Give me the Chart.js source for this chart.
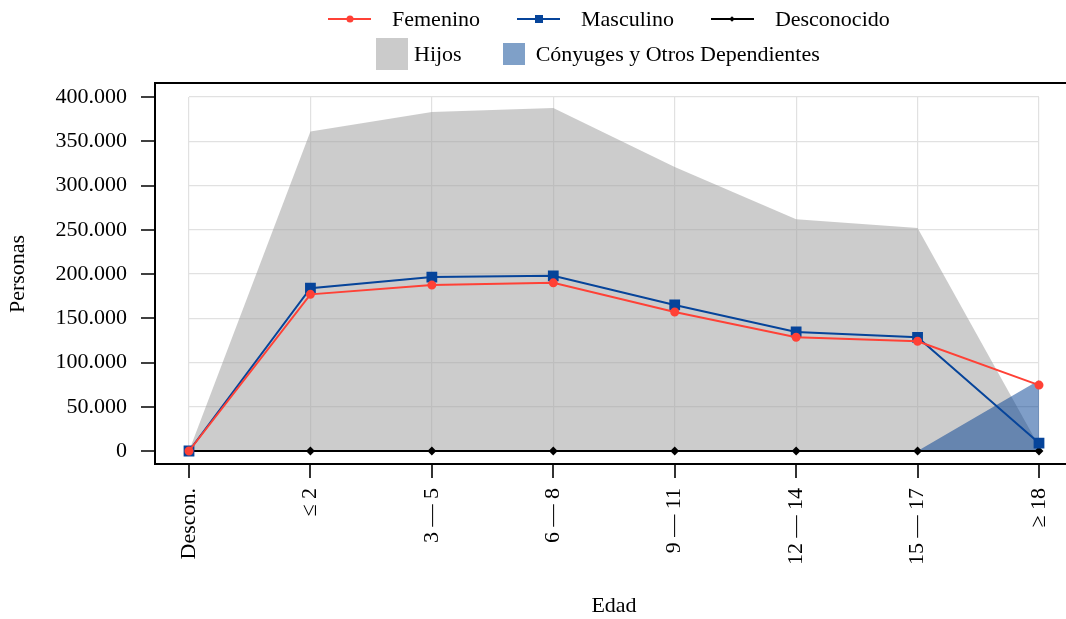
<!DOCTYPE html>
<html lang="es">
<head>
<meta charset="utf-8">
<title>Personas por edad</title>
<script src="https://cdn.jsdelivr.net/npm/chart.js@4.4.1/dist/chart.umd.min.js"></script>
<style>
  body { margin: 0; background: #fff; }
  #wrap { position: relative; width: 1066px; height: 619px; font-family: "Liberation Serif", serif; }
  #canvas { position: absolute; left: 0; top: 0; }
  .legend-row { position: absolute; display: flex; align-items: center; font-size: 22px; color: #000; white-space: nowrap; }
  .legend-row .item { display: flex; align-items: center; margin-right: 37px; }
  .legend-row .line { position: relative; width: 43px; height: 2px; margin-right: 21px; }
  .legend-row .mark { position: absolute; left: 50%; top: 50%; transform: translate(-50%, -50%); }
  .legend-row .box { margin-right: 8px; }
</style>
</head>
<body>
<div id="wrap">
  <canvas id="canvas" width="1066" height="619"></canvas>
  <div class="legend-row" style="left:328px; top:5px; height:28px;">
    <div class="item"><span class="line" style="background:#ff4136"><span class="mark" style="width:7px;height:7px;border-radius:50%;background:#ff4136"></span></span>Femenino</div>
    <div class="item"><span class="line" style="background:#06449a"><span class="mark" style="width:8px;height:8px;background:#06449a"></span></span>Masculino</div>
    <div class="item"><span class="line" style="background:#000"><span class="mark" style="width:4px;height:4px;background:#000;transform:translate(-50%,-50%) rotate(45deg)"></span></span>Desconocido</div>
  </div>
  <div class="legend-row" style="left:376px; top:38px; height:32px;">
    <div class="item" style="margin-right:41px"><span class="box" style="width:32px;height:32px;background:#cbcbcb;margin-right:6px"></span>Hijos</div>
    <div class="item"><span class="box" style="width:22px;height:22px;background:#7fa0c8;margin-right:11px"></span>Cónyuges y Otros Dependientes</div>
  </div>
</div>
<script>
const canvas = document.getElementById("canvas");

const categories = ['Descon.', '≤ 2', '3 — 5', '6 — 8', '9 — 11', '12 — 14', '15 — 17', '≥ 18'];
const femenino = [0, 177000, 187500, 190000, 157000, 128500, 124000, 74500];
const masculino = [0, 184000, 196500, 198000, 165000, 134500, 128500, 9000];
const desconocido = [0, 0, 0, 0, 0, 0, 0, 0];
const hijos = [0, 361000, 383000, 387500, 321000, 262000, 252000, 5500];
const conyuges = [0, 0, 0, 0, 0, 0, 0, 80000];
const yTicks = [0, 50000, 100000, 150000, 200000, 250000, 300000, 350000, 400000];

const font = { family: "'Liberation Serif', serif", size: 22 };

function formatMiles(v) {
  return String(v).replace(/\B(?=(\d{3})+(?!\d))/g, '.');
}

// matplotlib-like frame: spines + outward ticks, offset from the data area
const framePlugin = {
  id: 'frame',
  afterDraw(chart) {
    const { ctx, chartArea } = chart;
    const xs = chart.scales.x, ys = chart.scales.y;
    const left = chartArea.left - 34, top = chartArea.top - 14, bottom = chartArea.bottom + 13;
    const right = chart.width;
    ctx.save();
    ctx.strokeStyle = '#000';
    ctx.lineWidth = 2;
    ctx.beginPath();
    ctx.moveTo(right, top); ctx.lineTo(left, top); ctx.lineTo(left, bottom); ctx.lineTo(right, bottom);
    ctx.stroke();
    ctx.lineWidth = 1.6;
    ctx.beginPath();
    yTicks.forEach(v => {
      const y = Math.round(ys.getPixelForValue(v));
      ctx.moveTo(left - 14, y); ctx.lineTo(left, y);
    });
    categories.forEach((c, i) => {
      const x = Math.round(xs.getPixelForValue(i));
      ctx.moveTo(x, bottom); ctx.lineTo(x, bottom + 14);
    });
    ctx.stroke();
    ctx.restore();
  }
};

const chart = new Chart(canvas, {
  type: 'line',
  data: {
    labels: categories,
    datasets: [{
      label: 'Femenino',
      data: femenino,
      borderColor: '#ff4136',
      backgroundColor: '#ff4136',
      borderWidth: 2,
      pointStyle: 'circle',
      pointRadius: 3.5,
      fill: false,
      clip: false,
    }, {
      label: 'Masculino',
      data: masculino,
      borderColor: '#06449a',
      backgroundColor: '#06449a',
      borderWidth: 2,
      pointStyle: 'rect',
      pointRadius: 6.2,
      fill: false,
      clip: false,
    }, {
      label: 'Desconocido',
      data: desconocido,
      borderColor: '#000',
      backgroundColor: '#000',
      borderWidth: 2,
      pointStyle: 'rectRot',
      pointRadius: 3,
      fill: false,
      clip: false,
    }, {
      label: 'Cónyuges y Otros Dependientes',
      data: conyuges,
      borderWidth: 0,
      borderColor: 'rgba(0,0,0,0)',
      backgroundColor: 'rgba(0,61,145,0.5)',
      pointRadius: 0,
      fill: 'origin',
    }, {
      label: 'Hijos',
      data: hijos,
      borderWidth: 0,
      borderColor: 'rgba(0,0,0,0)',
      backgroundColor: 'rgba(158,158,158,0.53)',
      pointRadius: 0,
      fill: 'origin',
    }]
  },
  options: {
    responsive: false,
    animation: false,
    elements: { line: { tension: 0 } },
    layout: { padding: { left: 0, top: 97, right: 27, bottom: 0 } },
    plugins: {
      legend: { display: false },
      tooltip: { enabled: false },
    },
    scales: {
      x: {
        grid: { color: '#e1e1e1', lineWidth: 1.2, drawTicks: false },
        border: { display: false },
        ticks: { font: font, color: '#000', minRotation: 90, maxRotation: 90, padding: 37, autoSkip: false },
        title: { display: true, text: 'Edad', font: font, color: '#000', padding: 0 },
        afterFit(scale) {
          scale.height = 168;
          scale.paddingLeft = 0;
          scale.paddingRight = 0;
        }
      },
      y: {
        min: 0,
        max: 400000,
        grid: { color: '#e1e1e1', lineWidth: 1.2, drawTicks: false },
        border: { display: false },
        ticks: { font: font, color: '#000', stepSize: 50000, padding: 62, callback: v => formatMiles(v) },
        title: { display: true, text: 'Personas', font: font, color: '#000', padding: { top: 5, bottom: 0 } },
        afterFit(scale) {
          scale.width = 189;
          scale.paddingTop = 0;
          scale.paddingBottom = 0;
        }
      }
    }
  },
  plugins: [framePlugin]
});
</script>
</body>
</html>
